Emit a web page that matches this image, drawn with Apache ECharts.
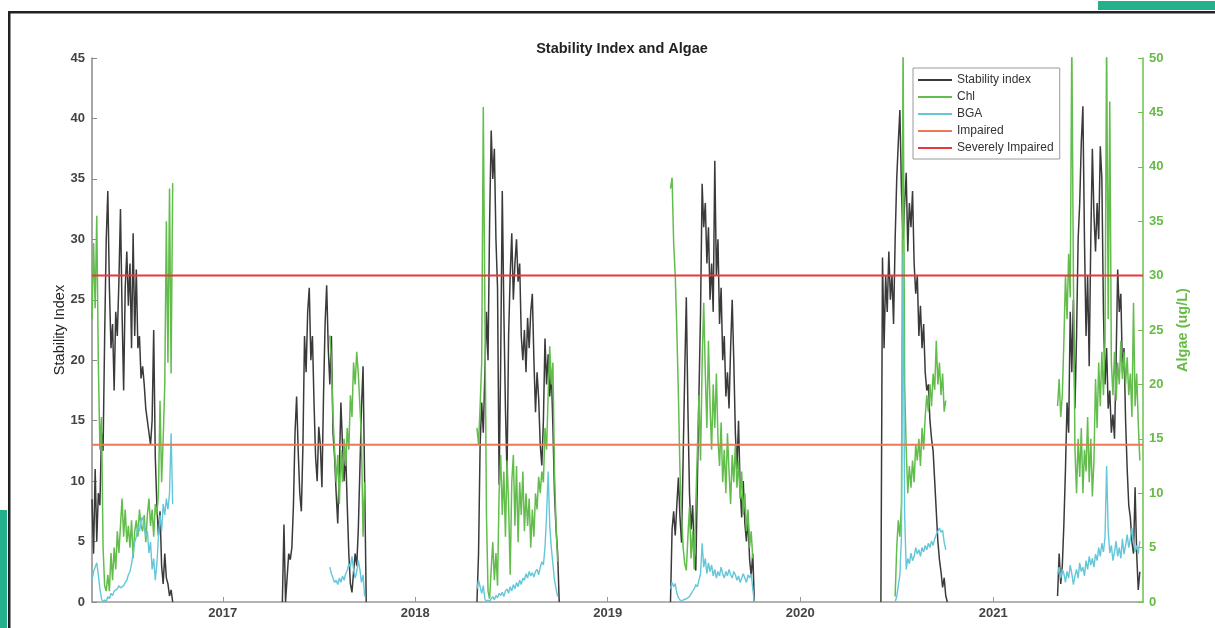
<!DOCTYPE html>
<html><head><meta charset="utf-8">
<script src="https://cdn.jsdelivr.net/npm/echarts@6/dist/echarts.min.js"></script>
<style>html,body{margin:0;padding:0;background:#fff}#c{width:1215px;height:628px}</style>
</head><body><div id="c"></div>
<script>
// ---------- labels ----------
const chartTitle = 'Stability Index and Algae';
const leftAxisName = 'Stability Index';
const rightAxisName = 'Algae (ug/L)';
const seriesNames = ['Stability index', 'Chl', 'BGA', 'Impaired', 'Severely Impaired'];
const yearTicks = [2017, 2018, 2019, 2020, 2021];
const xStart = '2016-04-28';
const xEnd = '2021-10-12';
const impairedLevel = 13;
const severelyImpairedLevel = 27;
const stepDays = 3;

// ---------- season start dates ----------
const siStart = ['2016-04-28', '2017-04-24', '2018-04-28', '2019-04-30', '2020-06-02', '2021-05-03'];
const algaeStart = ['2016-04-28', '2017-07-23', '2018-04-28', '2019-04-30', '2020-06-29', '2021-05-03'];

// ---------- Stability index (every 3 days) ----------
const si2016 = [8.5,4,11,5,9,8,14,12.5,22,30,34,26,21,23,17.5,24,22,26.5,32.5,24,17.5,26,29,24.5,28,21,30.5,22,27.5,21,22,18.5,19.5,18,16,15,14,13,15,22.5,12,8,5.5,7.5,3,1.5,4,2,1.5,0.5,1,0];
const si2017 = [0,6.4,0,2,4,3.5,4.5,8,14,17,12.5,9,7.5,13,22,19,24,26,20,22,16.5,12,10,14.5,13,9.5,17,23,26.2,21,18,22,14,12,9,6.5,11,16.5,13,10,12.5,8,4,1.5,0.8,2.5,4,3,6,11,16,19.5,10,0];
const si2018 = [0,4,13,16.5,14,19,24,20,31.5,39,35,37.5,30,26,9.7,20,34,24,16,10.5,22,27,30.5,25,28,30,26.5,28,22,20,22.5,19,23.5,21,24,25.5,20,15.7,19,16.8,13,11.3,15,21.8,18,20.5,17,19,14.5,9,6,4,0];
const si2019 = [0,6,7.5,5.5,8,10.3,7,4.9,12,19,25.2,16,9,6,8,4,2.6,10,17.3,24,34.6,31,33,28,31,25,28,24,36.5,27,30,23,26,20,22,17,19,16,21,25,20,14,11,15,9.5,7,10,6.5,5,7,3.5,2.2,4,0];
const si2020 = [0,28.5,21,27,24,29,25,27,23,30,35,38,40.7,34,30,33,35.5,29,33,31,34,28,25.5,27,22,24.5,21,23,19,17.5,18,15,13.5,12.5,10,7.5,5,3.5,2.5,1.2,2,0.5,0];
const si2021 = [0.5,4,1.5,3,6.5,11,16.5,14,24,19,25,16,22,30,33,38,41,30,22,27,19.5,30,37.5,32,29,33,30,37.7,35,24,18,21,16,17.5,14,15.5,13.5,20,27.5,24,25.5,19,21,15,11,8,7,5,4,9.5,4,1,2.5];

// ---------- Chl (ug/L, every 3 days) ----------
const chl2016 = [26,33,27,35.5,22,14,17,5,1.5,1,2.5,1,4.5,2,5,3,6.5,4.5,7,9.5,6,8.5,5.5,7,5,7.5,4,6.5,7.5,6,8.5,7,6.5,8,5.5,8,9.5,7,8.5,6,9,8,10,18.5,11,15,20,35,22,38,21,38.5];
const chl2017 = [24.5,22,17,14,11,13.5,9,14,11,15,12.5,16,14,19,17,22,20,23,21,18,15,6,11];
const chl2018 = [16,14.5,18,22,45.5,27,8,1,0.3,3,5.5,2,4.5,1.5,10,13.5,8,12,6,13,9,2.5,11,13.5,7,12.5,5.5,11,8,12,6.5,10,7,9.5,5,8.5,6,10,8.5,11.5,10,12,11,16,14,19,23.5,20,22,12,7,3.7];
const chl2019 = [38,39,33,30,25,19,12,8,5,3.5,2.9,6,8.7,4,6.5,3,9,14,19,13,22,27.5,21,16,24,18,14,20,16,21,15,12.5,16.5,11,14,10,15.5,12,9,13.5,11,14.5,10.5,13,9.5,12,8,10,6.5,8.5,5,6.5,4];
const chl2020 = [0.5,5,7.5,6,9,52,20,14,10,12.5,10.5,13,11,14.5,13,15,12.5,16,14,17,19,17.5,20,18,21,19.5,24,20,22,19,21,17.5,18.5];
const chl2021 = [18,20.5,17,19,24,30,26,32,28,52,30,14,10,15,11.5,16,10,14,12,17,11,15,9.7,13,20.5,16,22,18,23,19,24,52,26,46,22,19,23,18.5,22,20,24,20.5,23,20,22.5,19,21,17,27.5,18,21,16.5,13];

// ---------- BGA (ug/L, every 3 days) ----------
const bga2016 = [2,2.8,3.2,3.6,2.5,1.2,0.3,0,0.2,0,0.5,0.3,0.8,0.6,1,0.9,1.2,1.5,1.3,1.2,1.5,1.8,2,2.5,2.8,3.5,4.5,5.5,6,7,6.5,7.5,7.8,7,6,6.5,4.5,5.5,3,4,2,3.5,6,8,6.5,9,8,9.5,8.5,10,15.5,9];
const bga2017 = [3.2,2.6,2.2,1.8,2,1.6,2.2,1.8,2.4,2,2.6,2.9,3.5,3.2,4.2,3,2.2,2.8,3.8,3,1.8,2.5,0.5];
const bga2018 = [1.2,2,1.4,0.8,1.5,0.3,0,0.2,0,0.3,0.5,0.2,0.6,0.4,0.8,0.6,0.9,0.5,1,1.2,0.8,1.4,1,1.6,1.2,1.8,1.4,2,1.6,2.2,2,2.6,2.2,2.8,2.4,2.7,2.3,2.8,3,2.5,3.2,3.7,3.4,5,8,12,7,5,3.5,2,1.2,0.5];
const bga2019 = [1.2,1.8,1.4,1.7,0.8,0.4,0.2,0,0.2,0.1,0.3,0.2,0.5,0.6,1,1.2,1.6,1.4,2,2.6,5.4,3.2,4,2.6,3.6,2.8,3.4,2.4,3,2.2,2.8,2.4,3.2,2.6,2.2,2.8,2.4,3,2.5,2.2,2.8,2.5,2,2.4,1.8,2.2,2.6,2.2,1.8,2.5,2.2,2.6,1.2,0];
const bga2020 = [0,0.5,1.5,2.5,6,32,8,3,4,3.5,4.5,3.8,4.2,5,4.4,4.8,4.2,5,4.6,5.2,4.8,5.4,5,5.6,5.2,5.8,6.2,6.5,6.8,6.4,6.6,5.5,4.8];
const bga2021 = [2.5,3.2,2.2,3,2.6,1.8,2.8,2.2,3.4,2.6,1.6,2.4,3,2.2,3.6,2.8,3.2,2.4,3.8,3,4.2,3.4,4,3.2,4.4,3.8,5,4.2,5.4,4.6,6,12.5,6.5,4.5,5.2,3.8,4.6,5.6,4.2,5,4,5.8,4.4,5.2,6.2,5,5.8,6.8,5.4,4.6,5.2,4.4,5.6];

// ---------- build ----------
const DAY = 86400000;
const ts = s => Date.parse(s + 'T00:00:00Z');
function joinSeasons(starts, seasons) {
  const out = [];
  seasons.forEach((vals, k) => {
    const t0 = ts(starts[k]);
    if (k) out.push([t0 - DAY, null]);
    vals.forEach((v, i) => out.push([t0 + i * stepDays * DAY, v]));
  });
  return out;
}
const siData = joinSeasons(siStart, [si2016, si2017, si2018, si2019, si2020, si2021]);
const chlData = joinSeasons(algaeStart, [chl2016, chl2017, chl2018, chl2019, chl2020, chl2021]);
const bgaData = joinSeasons(algaeStart, [bga2016, bga2017, bga2018, bga2019, bga2020, bga2021]);
const xMin = ts(xStart), xMax = ts(xEnd);
const yearTs = yearTicks.map(y => Date.UTC(y, 0, 1));

const colors = ['#3a3a3a', '#62bd4c', '#63c7d9', '#ea7a55', '#e8383d'];
const FONT = 'Liberation Sans, Arial, sans-serif';

const chart = echarts.init(document.getElementById('c'), null, {renderer: 'canvas'});
chart.setOption({
  animation: false,
  backgroundColor: '#fff',
  textStyle: {fontFamily: FONT},
  title: {
    text: chartTitle, left: 617, top: 36, textAlign: 'center',
    textStyle: {fontSize: 14.5, fontWeight: 'bold', color: '#222', fontFamily: FONT}
  },
  grid: {left: 92, right: 72, top: 58, bottom: 26, containLabel: false},
  legend: {
    data: seriesNames, orient: 'vertical', left: 913, top: 68,
    icon: 'rect', itemWidth: 34, itemHeight: 2, itemGap: 5, itemTextGap: 3,
    padding: [6, 6, 5, 5], borderColor: '#9a9a9a', borderWidth: 1, backgroundColor: '#fff',
    textStyle: {fontSize: 12, color: '#333', lineHeight: 12, fontFamily: FONT}
  },
  graphic: [
    {type: 'rect', shape: {x: 8, y: 11, width: 1207, height: 2.5}, style: {fill: '#222'}, silent: true},
    {type: 'rect', shape: {x: 8, y: 11, width: 2.5, height: 617}, style: {fill: '#222'}, silent: true},
    {type: 'rect', shape: {x: 1098, y: 1, width: 117, height: 9}, style: {fill: '#24b08a'}, silent: true},
    {type: 'rect', shape: {x: 0, y: 510, width: 7, height: 118}, style: {fill: '#24b08a'}, silent: true}
  ],
  xAxis: {
    type: 'value', min: xMin, max: xMax,
    axisLine: {show: true, lineStyle: {color: '#9a9a9a', width: 1.5}},
    axisTick: {show: true, inside: true, length: 5, customValues: yearTs, lineStyle: {color: '#9a9a9a'}},
    axisLabel: {customValues: yearTs, formatter: v => String(new Date(v).getUTCFullYear()),
      color: '#444', fontSize: 13, margin: 5, fontWeight: 'bold', fontFamily: FONT},
    splitLine: {show: false}
  },
  yAxis: [
    {
      type: 'value', position: 'left', min: 0, max: 45, interval: 5,
      name: leftAxisName, nameLocation: 'middle', nameGap: 25, nameRotate: 90, nameMoveOverlap: false,
      nameTextStyle: {fontSize: 14.5, color: '#222', fontFamily: FONT},
      axisLine: {show: true, lineStyle: {color: '#8a8a8a', width: 1.5}},
      axisTick: {show: true, inside: true, length: 5, lineStyle: {color: '#8a8a8a'}},
      axisLabel: {color: '#444', fontSize: 13, margin: 7, fontWeight: 'bold', fontFamily: FONT},
      splitLine: {show: false}
    },
    {
      type: 'value', position: 'right', min: 0, max: 50, interval: 5,
      name: rightAxisName, nameLocation: 'middle', nameGap: 32, nameRotate: 90,
      nameTextStyle: {fontSize: 14.5, color: '#66bb44', fontWeight: 'bold', fontFamily: FONT},
      axisLine: {show: true, lineStyle: {color: '#6cc04c', width: 1.5}},
      axisTick: {show: true, inside: true, length: 5, lineStyle: {color: '#6cc04c'}},
      axisLabel: {color: '#66bb44', fontSize: 13, margin: 6, fontWeight: 'bold', fontFamily: FONT},
      splitLine: {show: false}
    }
  ],
  series: [
    {name: seriesNames[0], type: 'line', yAxisIndex: 0, data: siData, showSymbol: false, connectNulls: false,
      color: colors[0], lineStyle: {width: 1.5, color: colors[0]}, clip: true},
    {name: seriesNames[1], type: 'line', yAxisIndex: 1, data: chlData, showSymbol: false, connectNulls: false,
      color: colors[1], lineStyle: {width: 1.5, color: colors[1]}, clip: true},
    {name: seriesNames[2], type: 'line', yAxisIndex: 1, data: bgaData, showSymbol: false, connectNulls: false,
      color: colors[2], lineStyle: {width: 1.4, color: colors[2]}, clip: true},
    {name: seriesNames[3], type: 'line', yAxisIndex: 0, data: [[xMin, impairedLevel], [xMax, impairedLevel]],
      showSymbol: false, color: colors[3], lineStyle: {width: 2, color: colors[3]}},
    {name: seriesNames[4], type: 'line', yAxisIndex: 0, data: [[xMin, severelyImpairedLevel], [xMax, severelyImpairedLevel]],
      showSymbol: false, color: colors[4], lineStyle: {width: 2, color: colors[4]}}
  ]
});
</script>
</body></html>
